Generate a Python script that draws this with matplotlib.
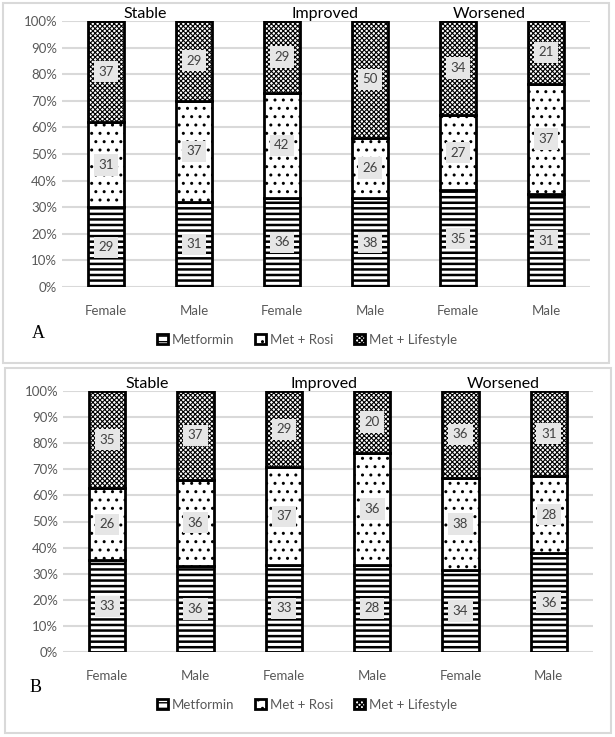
import matplotlib
matplotlib.use("Agg")
import matplotlib.pyplot as plt
import numpy as np
from matplotlib.patches import Rectangle

# x categories (two sexes in each outcome group)
categories = ["Female", "Male", "Female", "Male", "Female", "Male"]
groups = ["Stable", "Improved", "Worsened"]
series = ["Metformin", "Met + Rosi", "Met + Lifestyle"]

# counts shown in the labels, panel A
a_metformin = [29, 31, 36, 38, 35, 31]
a_rosi = [31, 37, 42, 26, 27, 37]
a_lifestyle = [37, 29, 29, 50, 34, 21]

# counts shown in the labels, panel B
b_metformin = [33, 36, 33, 28, 34, 36]
b_rosi = [26, 36, 37, 36, 38, 28]
b_lifestyle = [35, 37, 29, 20, 36, 31]

plt.rcParams["font.family"] = ["Lato", "DejaVu Sans"]
GRAY_TXT = "#595959"
GRID = "#d9d9d9"

# hatch style per series: (hatch, hatch linewidth)
styles = [("---", 1.8), ("..", 1.0), ("xxxxxxx", 0.8)]


def draw_panel(ax, data, title_x):
    x = np.arange(len(categories))
    counts = np.array(data, dtype=float)
    totals = counts.sum(axis=0)
    shares = counts / totals
    bottom = np.zeros(len(categories))
    for i, (name, share) in enumerate(zip(series, shares)):
        hatch, hlw = styles[i]
        with plt.rc_context({"hatch.linewidth": hlw, "hatch.color": "black"}):
            bars = ax.bar(x, share, 0.41, bottom=bottom, color="white",
                          edgecolor="black", linewidth=2.0, hatch=hatch,
                          label=name, zorder=3)
        for b in bars:
            if hasattr(b, "set_hatch_linewidth"):
                b.set_hatch_linewidth(hlw)
        for xi, s, b0, c in zip(x, share, bottom, counts[i]):
            ax.text(xi, b0 + s / 2, f"{int(c)}", ha="center", va="center",
                    fontsize=9.5, color="#404040", zorder=5,
                    bbox=dict(boxstyle="square,pad=0.35", fc="#e6e6e6", ec="none"))
        bottom += share
    ax.set_xlim(-0.5, 5.5)
    ax.set_ylim(0, 1)
    ax.set_yticks(np.arange(0, 1.01, 0.1))
    ax.set_yticklabels([f"{v}%" for v in range(0, 101, 10)])
    ax.set_xticks(x)
    ax.set_xticklabels(categories)
    ax.tick_params(length=0, labelsize=9.5, labelcolor=GRAY_TXT)
    ax.tick_params(axis="x", pad=13)
    ax.grid(axis="y", color=GRID, linewidth=1.5, zorder=0)
    ax.set_axisbelow(True)
    for sp in ax.spines.values():
        sp.set_visible(False)
    for g, tx in zip(groups, title_x):
        ax.text(tx, 1.0, g, ha="center", va="bottom", fontsize=11.5,
                color="black")


fig = plt.figure(figsize=(6.15, 7.37), dpi=100)
W, H = 615, 737

# panel frames
fig.patches.append(Rectangle((3 / W, 1 - 363 / H), 606 / W, 360 / H,
                             transform=fig.transFigure, fill=False,
                             ec=GRID, lw=1.5))
fig.patches.append(Rectangle((5 / W, 1 - 733 / H), 606 / W, 365 / H,
                             transform=fig.transFigure, fill=False,
                             ec=GRID, lw=1.5))

ax_a = fig.add_axes([62 / W, 1 - 287 / H, 528 / W, 266 / H])
draw_panel(ax_a, [a_metformin, a_rosi, a_lifestyle], [0.44, 2.49, 4.36])

ax_b = fig.add_axes([63 / W, 1 - 652 / H, 530 / W, 261 / H])
draw_panel(ax_b, [b_metformin, b_rosi, b_lifestyle], [0.45, 2.46, 4.48])

fig.text(38 / W, 1 - 333 / H, "A", fontsize=13, family="Liberation Serif",
         ha="center", va="center")
fig.text(36 / W, 1 - 688 / H, "B", fontsize=13, family="Liberation Serif",
         ha="center", va="center")

for ax, y in [(ax_a, 340), (ax_b, 705)]:
    h, l = ax.get_legend_handles_labels()
    fig.legend(h, l, loc="center", bbox_to_anchor=(307 / W, 1 - y / H),
               ncol=3, frameon=False, fontsize=9.5, labelcolor=GRAY_TXT,
               handlelength=0.8, handleheight=0.8, handletextpad=0.3,
               columnspacing=1.6)

fig.savefig("out.png", dpi=100)
